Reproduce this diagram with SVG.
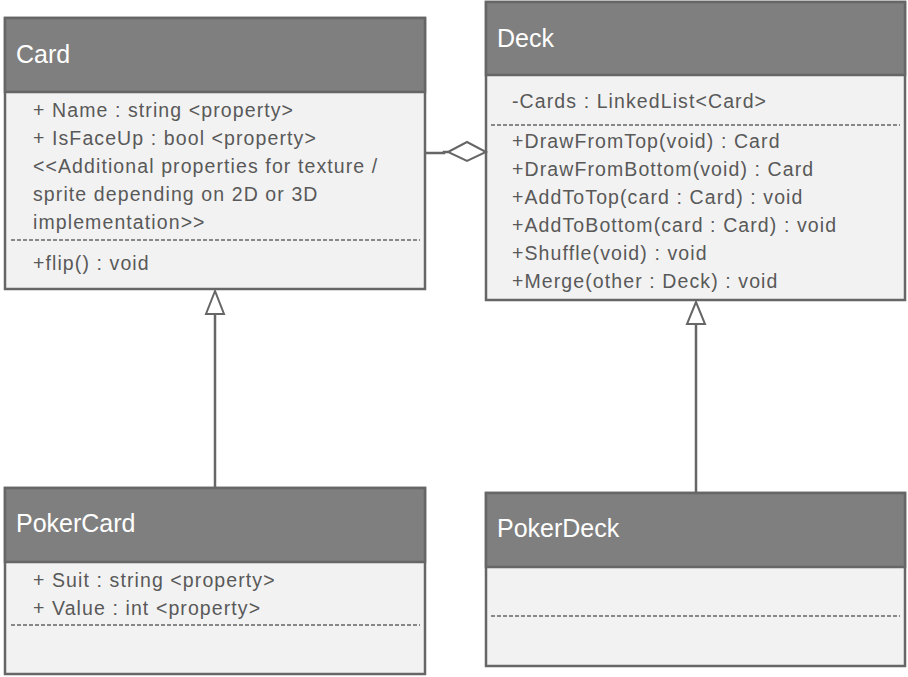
<svg xmlns="http://www.w3.org/2000/svg" width="908" height="677" viewBox="0 0 908 677">
<style>
.body{fill:#f2f2f2;stroke:#666;stroke-width:2.5}
.head{fill:#7f7f7f;stroke:#666;stroke-width:2.5}
.dash{stroke:#666;stroke-width:1.5;stroke-dasharray:4 2;fill:none}
.title{font-family:"Liberation Sans",Arial,sans-serif;font-size:25px;fill:#fff}
.t{font-family:"Liberation Sans",Arial,sans-serif;font-size:19.5px;letter-spacing:1.1px;fill:#595959}
.conn{stroke:#666;stroke-width:2.5;fill:none}
.tri{fill:#fff;stroke:#666;stroke-width:2}
</style>
<rect width="908" height="677" fill="#fff"/>
<g id="Card">
<rect class="body" x="5" y="18" width="420" height="271"/>
<rect class="head" x="5" y="18" width="420" height="74"/>
<text class="title" x="16" y="63">Card</text>
<text class="t" x="33" y="117">+ Name : string &lt;property&gt;</text>
<text class="t" x="33" y="145">+ IsFaceUp : bool &lt;property&gt;</text>
<text class="t" x="33" y="173">&lt;&lt;Additional properties for texture /</text>
<text class="t" x="33" y="201">sprite depending on 2D or 3D</text>
<text class="t" x="33" y="229">implementation&gt;&gt;</text>
<line class="dash" x1="11" y1="240" x2="420" y2="240"/>
<text class="t" x="33" y="270">+flip() : void</text>
</g>
<g id="Deck">
<rect class="body" x="486" y="2" width="419" height="298"/>
<rect class="head" x="486" y="2" width="419" height="73"/>
<text class="title" x="497" y="47">Deck</text>
<text class="t" x="512" y="108">-Cards : LinkedList&lt;Card&gt;</text>
<line class="dash" x1="491" y1="125" x2="900" y2="125"/>
<text class="t" x="512" y="148">+DrawFromTop(void) : Card</text>
<text class="t" x="512" y="176">+DrawFromBottom(void) : Card</text>
<text class="t" x="512" y="204">+AddToTop(card : Card) : void</text>
<text class="t" x="512" y="232">+AddToBottom(card : Card) : void</text>
<text class="t" x="512" y="260">+Shuffle(void) : void</text>
<text class="t" x="512" y="288">+Merge(other : Deck) : void</text>
</g>
<g id="PokerCard">
<rect class="body" x="5" y="488" width="420" height="186"/>
<rect class="head" x="5" y="488" width="420" height="74"/>
<text class="title" x="16" y="532">PokerCard</text>
<text class="t" x="33" y="587">+ Suit : string &lt;property&gt;</text>
<text class="t" x="33" y="615">+ Value : int &lt;property&gt;</text>
<line class="dash" x1="11" y1="625" x2="420" y2="625"/>
</g>
<g id="PokerDeck">
<rect class="body" x="486" y="493" width="419" height="173"/>
<rect class="head" x="486" y="493" width="419" height="74"/>
<text class="title" x="497" y="537">PokerDeck</text>
<line class="dash" x1="491" y1="616" x2="900" y2="616"/>
</g>
<g id="connectors">
<line class="conn" x1="215" y1="488" x2="215" y2="314"/>
<polygon class="tri" points="215,291 206,314 224,314"/>
<line class="conn" x1="696" y1="493" x2="696" y2="324"/>
<polygon class="tri" points="696,302 687,324 705,324"/>
<polyline class="conn" points="426,153 444,153 444,152 448,152"/>
<polygon class="tri" points="448,152 467,142 486,152 467,161"/>
</g>
</svg>
